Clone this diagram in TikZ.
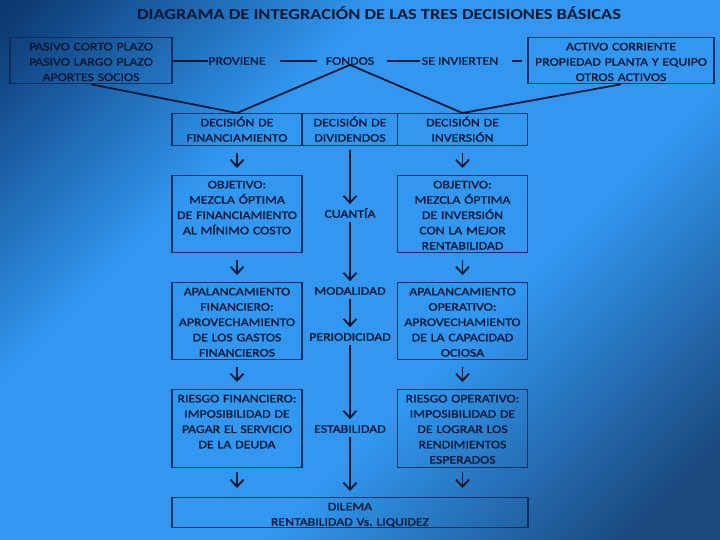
\documentclass[tikz,border=0pt]{standalone}
\usepackage{fontspec}
\setmainfont{Carlito}[FakeStretch=1.2]
\newfontfamily\inkfont{Carlito}[FakeStretch=1.2, FakeBold=1.2]
\usetikzlibrary{arrows.meta}
\definecolor{bgdark}{HTML}{0D3A73}
\definecolor{bglight}{HTML}{3197F0}
\definecolor{bgbr}{HTML}{1B4A80}
\definecolor{ink}{HTML}{0A1733}
\definecolor{rim}{HTML}{0D2B5C}
\pgfdeclareverticalshading{bgdiag}{100bp}{color(0bp)=(bgbr); color(20bp)=(bgbr); color(40bp)=(bglight); color(64bp)=(bglight); color(84bp)=(bgdark); color(100bp)=(bgdark)}
\frenchspacing
\begin{document}
\begin{tikzpicture}[
    x=1pt, y=-1pt,
    box/.style={draw=rim, line width=1.3pt, text=ink, anchor=north, align=center,
                inner xsep=0pt, inner ysep=0pt, text height=12.7pt,
                font=\inkfont\fontsize{11.5}{15.3}\selectfont},
    lbl/.style={text=ink, inner sep=0pt, text height=7.4pt, text depth=0pt,
                font=\inkfont\fontsize{11.5}{15.3}\selectfont},
    wire/.style={draw=ink, line width=1.8pt},
    arr/.style={wire, -{Straight Barb[length=7pt,width=13pt]}}
  ]
  % background
  \shade[shading=bgdiag, shading angle=45] (0,0) rectangle (720,540);
  \node[text=ink, font=\fontsize{15.3}{18}\selectfont\bfseries] (title) at (379,13)
    {DIAGRAMA DE INTEGRACIÓN DE LAS TRES DECISIONES BÁSICAS};
  % top row
  \node[box, text width=162pt, text depth=33.3pt] (lbox) at (91,37)
    {PASIVO CORTO PLAZO\\PASIVO LARGO PLAZO\\APORTES SOCIOS};
  \node[box, text width=186pt, text depth=33.3pt] (rbox) at (621,37)
    {ACTIVO CORRIENTE\\PROPIEDAD PLANTA Y EQUIPO\\OTROS ACTIVOS};
  \node[lbl] (prov) at (237,61) {PROVIENE};
  \node[lbl] (fondos) at (350,61) {FONDOS};
  \node[lbl] (seinv) at (460,61) {SE INVIERTEN};
  % decisions
  \node[box, text width=130pt, text depth=19.3pt] (decF) at (237,113) {DECISIÓN DE\\FINANCIAMIENTO};
  \node[box, text width=95pt, text depth=19.3pt] (decD) at (350,113) {DECISIÓN DE\\DIVIDENDOS};
  \node[box, text width=130pt, text depth=19.3pt] (decI) at (462.5,113) {DECISIÓN DE\\INVERSIÓN};
  % objetivo
  \node[box, text width=130pt, text depth=64.3pt] (objF) at (237,175)
    {OBJETIVO:\\MEZCLA ÓPTIMA\\DE FINANCIAMIENTO\\AL MÍNIMO COSTO};
  \node[box, text width=130pt, text depth=64.3pt] (objI) at (462.5,175)
    {OBJETIVO:\\MEZCLA ÓPTIMA\\DE INVERSIÓN\\CON LA MEJOR\\RENTABILIDAD};
  % apalancamiento
  \node[box, text width=130pt, text depth=64.3pt] (apaF) at (237,282)
    {APALANCAMIENTO\\FINANCIERO:\\APROVECHAMIENTO\\DE LOS GASTOS\\FINANCIEROS};
  \node[box, text width=130pt, text depth=64.3pt] (apaI) at (462.5,282)
    {APALANCAMIENTO\\OPERATIVO:\\APROVECHAMIENTO\\DE LA CAPACIDAD\\OCIOSA};
  % riesgo
  \node[box, text width=130pt, text depth=65.3pt] (rieF) at (237,389)
    {RIESGO FINANCIERO:\\IMPOSIBILIDAD DE\\PAGAR EL SERVICIO\\DE LA DEUDA};
  \node[box, text width=130pt, text depth=65.3pt] (rieI) at (462.5,389)
    {RIESGO OPERATIVO:\\IMPOSIBILIDAD DE\\DE LOGRAR LOS\\RENDIMIENTOS\\ESPERADOS};
  % dilema
  \node[box, text width=356pt, text depth=17.3pt] (dil) at (350,497)
    {DILEMA\\RENTABILIDAD Vs. LIQUIDEZ};
  % dividendos column
  \foreach \n/\y/\t in {cuan/214/CUANTÍA, moda/291/MODALIDAD, peri/337/PERIODICIDAD, esta/429/ESTABILIDAD} {
    \node[lbl] (\n) at (350,\y) {\t};
  }
  % connectors
  \draw[wire] (lbox.east) -- (lbox.east -| prov.west);
  \draw[wire, shorten <=14pt, shorten >=9pt] (prov) -- (fondos);
  \draw[wire, shorten <=13pt, shorten >=2pt] (fondos) -- (seinv);
  \draw[wire, shorten <=14pt, shorten >=5pt] (seinv.east) -- (seinv.east -| rbox.west);
  \draw[wire] (lbox.south) -- (decF.north) -- (fondos.south) -- (decI.north) -- (rbox.south);
  \foreach \a/\b in {decF/objF, objF/apaF, apaF/rieF, decI/objI, objI/apaI, apaI/rieI} {
    \draw[arr, shorten <=7pt, shorten >=7pt] (\a.south) -- (\b.north);
  }
  \foreach \a in {rieF, rieI} {
    \draw[arr, shorten <=4pt, shorten >=9pt] (\a.south) -- (\a.south |- dil.north);
  }
  \foreach \a/\b in {decD/cuan, cuan/moda, moda/peri, peri/esta, esta/dil} {
    \draw[arr, shorten <=4pt, shorten >=6pt] (\a.south) -- (\b.north);
  }
\end{tikzpicture}
\end{document}
